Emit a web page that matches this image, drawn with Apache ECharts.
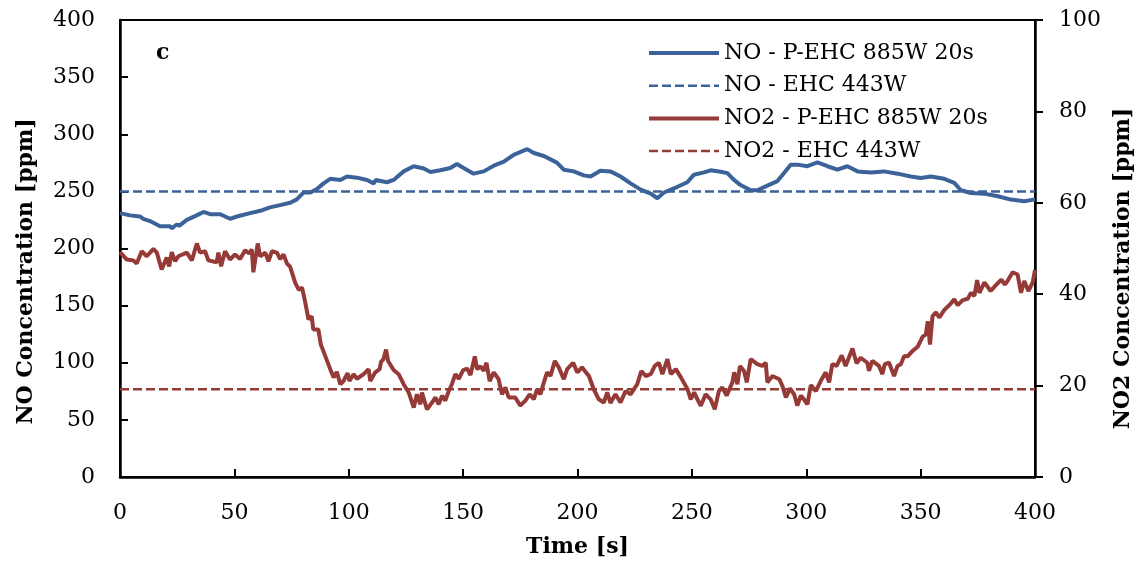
<!DOCTYPE html>
<html>
<head>
<meta charset="utf-8">
<script src="https://cdn.jsdelivr.net/npm/echarts@6/dist/echarts.min.js"></script>
<style>
html,body{margin:0;padding:0;background:#fff;}
#chart{width:1142px;height:563px;}
</style>
</head>
<body>
<div id="chart"></div>
<script>
// ---- data ----
const noTime = [0,4.4,8.8,10.2,13.1,17.5,21.9,22.6,24.8,26,29.2,33.5,36.5,39.4,43.8,48.1,51.1,56.9,61.3,65.6,70,74.4,77.3,80.2,83.2,86.1,89,91.9,96.3,99.2,103.6,108,110.9,111.8,116.7,119.6,124,128.4,132.8,135.7,140,144.4,147.3,150.2,154.6,159,163.4,167.8,172.1,178,180.9,185.3,188.2,191.1,194,198.4,202.7,205.7,210,214.4,218.8,223.2,227.6,232,234.9,237.8,243.7,248,250.9,255.3,258.2,262.6,265.5,268.4,271.3,275.7,278.6,283,287.4,290.3,293.2,296.1,300.5,304.9,309.3,313.6,318,322.4,328.2,334,339.9,345.7,350.1,354.5,360.3,364.7,367.6,372,377.8,383.7,389.5,395.3,400];
const noValues = [231,229,228,226,224,219.5,219.5,217.7,221,220,225,229,232,230,230,226,228,231,233,236,238,240,243,249,249,252,257,261,260,263,262,260,257,260,258,260,267.5,272,270,267,268.5,270.5,274,270.5,265.5,267.5,272.5,276,282,287,283.6,281,278,275,269,267.5,264,263,268,267.5,263,257,251.5,248,244,249,254,258,264.6,266.6,268.4,267.2,266,260,255.5,251,251,255,259,266,273.4,273.4,272,275.4,272,269,272,267.5,266.6,267.5,265.5,263,261.7,263,261,257.4,251,248.6,248,245.7,242.8,241.3,243];

const no2Time = [0,2.9,5.8,7.3,9.5,11.7,14.6,16.1,18.2,20.4,21.5,22.6,24.1,25.5,29.2,31.4,33.6,35,37.2,38.6,42.3,43,44.2,45.9,48.1,50.3,52.5,54.7,56.5,57.6,58.3,60.2,61.3,63.5,64.9,66.4,68.6,70,71.5,73,74.4,76.6,78.1,79.6,80.7,82.4,83.8,84.5,86.7,87.8,89.7,91.9,93.4,94.8,96.3,97.7,99.5,100.3,102.1,103.6,106.5,108.7,109.4,111.6,113.5,114.1,115.2,116.3,117.2,119.6,121.8,124,126.2,128.4,129.8,131.3,132,134.2,136.4,137.9,139.3,140.8,142.2,143.7,145.1,146.6,148.1,150,151.8,153.2,155.1,156.1,157.6,159,160.2,161.6,163.4,165.5,167,168.5,169.9,172.8,175,177.2,179.1,180.9,182.3,183.8,185.3,186.7,188.2,190.1,191.8,194,195.5,198.1,199.9,202,203.5,205,207.1,209.3,211.5,213,214.4,216.6,218.8,221,223.2,226.1,227.9,229.8,232,233.8,235.6,237.1,239.3,240.8,243,245.2,248.1,249.5,251,252.4,253.9,256,258.2,260,261.8,263.3,265.2,267.7,268.5,269.9,271,272.8,274,275.7,278.6,280.8,282.3,283,285.2,288.2,289.6,291.1,292.9,294.7,296.1,297.6,299,300.5,302,304.2,306.3,308.5,310,311.4,313.3,315.5,317.2,320.2,322,323.8,326.7,327.4,328.9,331.8,333.3,334.3,336.2,338.4,339.9,341.4,342.8,344.3,346.5,348.7,350.9,352.3,353.1,354.1,355.2,356.7,358.2,360.3,363.3,364.7,366.2,368.4,370.6,372,373.5,374.7,375.7,377.9,380.6,383.1,385.3,386.8,388,390.2,392.4,393.9,395.3,397.1,399,400];
const no2Values = [49.2,47.6,47.4,46.7,49.4,48.3,49.9,49.1,45.4,48,46.1,49.2,47.2,48.3,49.1,47.4,51.1,49.1,49.4,47.4,47,49.1,46.1,49.4,47.6,48.7,47.7,49.6,48.9,49.8,44.8,51.1,48.3,49.1,47.2,49.4,49.1,47.7,48.7,46.7,46,42.5,41,41.4,38.9,34.5,35.2,32.3,32.3,29,26.5,23.6,21.8,23,20.3,21,22.7,21,22.5,21.5,22.5,23.6,21,22.9,23.6,25.2,25.8,27.9,25.4,23.4,22.5,20.3,18.5,15.2,18.1,15.9,18.5,14.8,16.3,17.4,15.9,17.8,16.7,18.8,20.3,22.5,21.5,23.4,23.7,22.3,26.4,23.6,24.2,23.2,25,21,22.9,21.4,18.1,19.6,17.4,17.4,15.6,16.7,18.1,17,19.2,18.1,20.7,22.9,22.1,25.4,24,21.4,23.6,25,22.9,24,23,22.1,19.2,17,16.3,18.5,16.2,18.1,16.3,18.8,18.1,20.3,23.2,22.1,22.5,24.3,25,22.5,25.8,22.5,23.6,21.8,19.2,17,18.5,17,15.6,18.1,17,14.8,18.8,19.6,17.8,20.7,22.9,20.3,24.3,23.2,20.7,25.8,24.7,24.3,25,20.7,22.1,21.4,19.9,17.4,19.4,18.1,15.6,17.8,17,15.9,20.1,18.8,21,22.9,20.7,24.7,24.3,26.6,24.3,28.1,24.9,26.1,25,23.2,25.4,24.3,22.5,24.7,25,22.1,24.3,24.7,26.5,26.4,27.6,28.5,30.7,31.2,34.1,29,35.2,36,34.9,36.5,38,38.9,37.6,38.7,39,40.3,39.6,43.1,40.3,42.6,40.7,42.1,43.2,42.1,42.9,44.8,44.3,40.3,42.9,40.7,42.6,45.3];

const refTime = [0, 400];
const noRef = [250, 250];      // NO - EHC 443W (left axis)
const no2Ref = [19.2, 19.2];   // NO2 - EHC 443W (right axis)

const seriesNames = ['NO - P-EHC 885W 20s', 'NO - EHC 443W', 'NO2 - P-EHC 885W 20s', 'NO2 - EHC 443W'];
const leftTicks = {min: 0, max: 400, interval: 50};
const rightTicks = {min: 0, max: 100, interval: 20};
const xTicks = {min: 0, max: 400, interval: 50};

// ---- chart ----
const FONT = 'DejaVu Serif';
const BLUE = '#3b639a';
const RED = '#953a36';
const zip = (a, b) => a.map((t, i) => [t, b[i]]);

const chart = echarts.init(document.getElementById('chart'), null, {renderer: 'canvas'});
chart.setOption({
  animation: false,
  backgroundColor: '#fff',
  textStyle: {fontFamily: FONT, color: '#000'},
  grid: {left: 120, right: 107, top: 20, bottom: 85, show: true, borderColor: '#000', borderWidth: 2, backgroundColor: 'transparent'},
  legend: {
    orient: 'vertical', left: 647, top: 41, padding: 0,
    itemWidth: 70, itemHeight: 14, itemGap: 8.7,
    itemStyle: {opacity: 0},
    lineStyle: {width: 'inherit'},
    textStyle: {fontFamily: FONT, fontSize: 22, color: '#000', lineHeight: 24},
    data: seriesNames
  },
  graphic: [{
    type: 'text', left: 156, top: 42,
    style: {text: 'c', font: 'bold 22px "DejaVu Serif"', fill: '#000'}
  }],
  xAxis: {
    type: 'value', min: xTicks.min, max: xTicks.max, interval: xTicks.interval,
    name: 'Time [s]', nameLocation: 'middle', nameGap: 59,
    nameTextStyle: {fontFamily: FONT, fontSize: 22, fontWeight: 'bold', color: '#000'},
    axisLine: {show: true, lineStyle: {color: '#000', width: 2.5}},
    axisTick: {show: true, inside: true, length: 8, lineStyle: {color: '#000', width: 2}},
    axisLabel: {fontFamily: FONT, fontSize: 22, color: '#000', margin: 25},
    splitLine: {show: false}
  },
  yAxis: [{
    type: 'value', position: 'left', min: leftTicks.min, max: leftTicks.max, interval: leftTicks.interval,
    name: 'NO Concentration [ppm]', nameLocation: 'middle', nameGap: 83, nameRotate: 90,
    nameTextStyle: {fontFamily: FONT, fontSize: 22, fontWeight: 'bold', color: '#000', padding: [0, 46, 0, 0]},
    axisLine: {show: true, lineStyle: {color: '#000', width: 2.5}},
    axisTick: {show: true, inside: true, length: 8, lineStyle: {color: '#000', width: 2}},
    axisLabel: {fontFamily: FONT, fontSize: 22, color: '#000', margin: 25},
    splitLine: {show: false}
  }, {
    type: 'value', position: 'right', min: rightTicks.min, max: rightTicks.max, interval: rightTicks.interval,
    name: 'NO2 Concentration [ppm]', nameLocation: 'middle', nameGap: 75, nameRotate: 90,
    nameTextStyle: {fontFamily: FONT, fontSize: 22, fontWeight: 'bold', color: '#000', padding: [0, 40, 0, 0]},
    axisLine: {show: true, lineStyle: {color: '#000', width: 2.5}},
    axisTick: {show: true, inside: false, length: 8, lineStyle: {color: '#000', width: 2}},
    axisLabel: {fontFamily: FONT, fontSize: 22, color: '#000', margin: 24},
    splitLine: {show: false}
  }],
  series: [{
    name: seriesNames[0], type: 'line', yAxisIndex: 0, data: zip(noTime, noValues),
    showSymbol: false, symbol: 'none', color: BLUE,
    lineStyle: {color: BLUE, width: 4}
  }, {
    name: seriesNames[1], type: 'line', yAxisIndex: 0, data: zip(refTime, noRef),
    showSymbol: false, symbol: 'none', color: BLUE,
    lineStyle: {color: BLUE, width: 2.5, type: [9, 4]}
  }, {
    name: seriesNames[2], type: 'line', yAxisIndex: 1, data: zip(no2Time, no2Values),
    showSymbol: false, symbol: 'none', color: RED,
    lineStyle: {color: RED, width: 4}
  }, {
    name: seriesNames[3], type: 'line', yAxisIndex: 1, data: zip(refTime, no2Ref),
    showSymbol: false, symbol: 'none', color: RED,
    lineStyle: {color: RED, width: 2.5, type: [9, 4]}
  }]
});
</script>
</body>
</html>
